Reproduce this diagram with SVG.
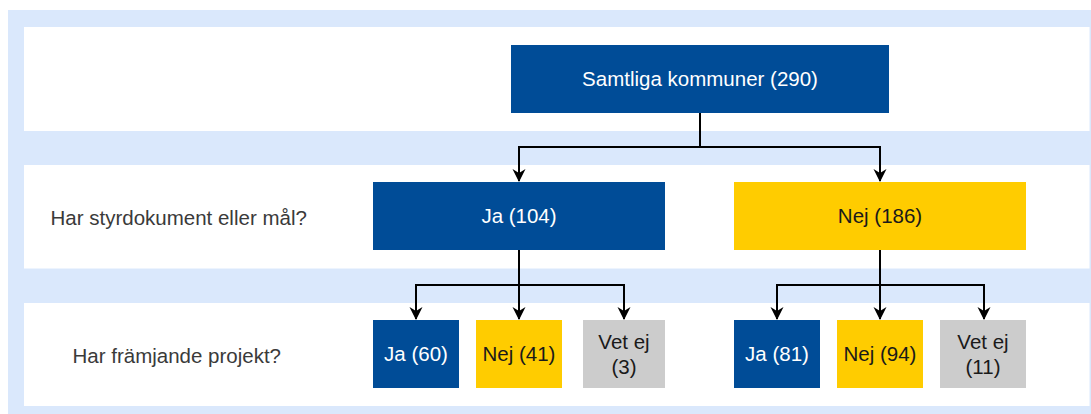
<svg xmlns="http://www.w3.org/2000/svg" width="1091" height="414" viewBox="0 0 1091 414">
<defs>
<style>
text{font-family:"Liberation Sans",Arial,sans-serif;font-size:20.5px;text-anchor:middle}
.band{fill:#ffffff}
.blue{fill:#004C97}
.yel{fill:#FFCC00}
.grey{fill:#CCCCCC}
.tw{fill:#ffffff}
.td{fill:#1a1a1a}
.lbl{fill:#3a3a3a;text-anchor:start}
.conn{fill:none;stroke:#000000;stroke-width:2}
</style>
<marker id="arr" markerWidth="14" markerHeight="14" refX="12" refY="7" orient="auto" markerUnits="userSpaceOnUse">
<path d="M0,0.5 L13,7 L0,13.5 L4,7 Z" fill="#000000"/>
</marker>
</defs>
<rect x="0" y="0" width="1091" height="414" fill="#ffffff"/>
<rect x="8" y="10" width="1083" height="404" fill="#DAE8FC"/>
<rect class="band" x="24" y="27" width="1065.5" height="104"/>
<rect class="band" x="24" y="165" width="1065.5" height="103.5"/>
<rect class="band" x="24" y="303" width="1065.5" height="103"/>
<g id="label1"><text class="lbl" x="50.5" y="225">Har styrdokument eller mål?</text></g>
<g id="label2"><text class="lbl" x="72.5" y="363">Har främjande projekt?</text></g>
<g id="connectors">
<path class="conn" d="M700,113 V147 H519 V181" marker-end="url(#arr)"/>
<path class="conn" d="M700,147 H880 V181" marker-end="url(#arr)"/>
<path class="conn" d="M519,250 V285 H416 V319" marker-end="url(#arr)"/>
<path class="conn" d="M519,285 V319" marker-end="url(#arr)"/>
<path class="conn" d="M519,285 H624 V319" marker-end="url(#arr)"/>
<path class="conn" d="M880,250 V285 H777 V319" marker-end="url(#arr)"/>
<path class="conn" d="M880,285 V319" marker-end="url(#arr)"/>
<path class="conn" d="M880,285 H984 V319" marker-end="url(#arr)"/>
</g>
<g id="root"><rect class="blue" x="511" y="45" width="378" height="68"/><text class="tw" x="700" y="86">Samtliga kommuner (290)</text></g>
<g id="ja104"><rect class="blue" x="373" y="182" width="292" height="68"/><text class="tw" x="519" y="223">Ja (104)</text></g>
<g id="nej186"><rect class="yel" x="734" y="182" width="292" height="68"/><text class="td" x="880" y="223">Nej (186)</text></g>
<g id="ja60"><rect class="blue" x="373" y="320" width="86" height="68"/><text class="tw" x="416" y="361">Ja (60)</text></g>
<g id="nej41"><rect class="yel" x="476" y="320" width="86" height="68"/><text class="td" x="519" y="361">Nej (41)</text></g>
<g id="vetej3"><rect class="grey" x="583" y="320" width="82" height="68"/><text class="td" x="624" y="349">Vet ej</text><text class="td" x="624" y="374">(3)</text></g>
<g id="ja81"><rect class="blue" x="734" y="320" width="86" height="68"/><text class="tw" x="777" y="361">Ja (81)</text></g>
<g id="nej94"><rect class="yel" x="837" y="320" width="86" height="68"/><text class="td" x="880" y="361">Nej (94)</text></g>
<g id="vetej11"><rect class="grey" x="940" y="320" width="86" height="68"/><text class="td" x="983" y="349">Vet ej</text><text class="td" x="983" y="374">(11)</text></g>
</svg>
